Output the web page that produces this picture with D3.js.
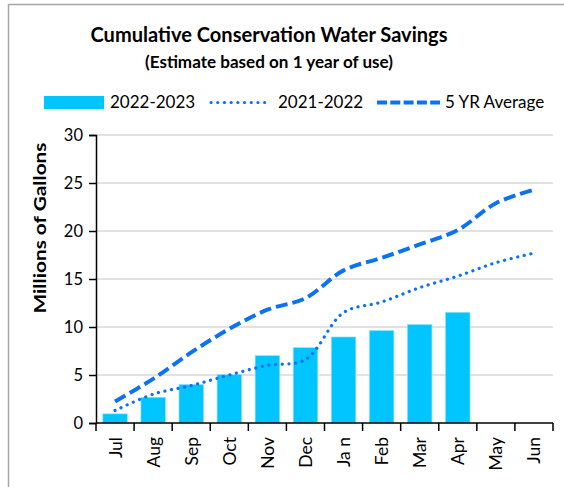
<!DOCTYPE html>
<html>
<head>
<meta charset="utf-8">
<script src="https://cdn.jsdelivr.net/npm/d3@7"></script>
<style>
  html, body { margin: 0; padding: 0; background: #fff; }
  svg { display: block; font-family: Lato, "Open Sans", sans-serif; }
</style>
</head>
<body>
<div id="chart"></div>
<script>
// Monthly cumulative water savings (millions of gallons), fiscal year Jul–Jun
const months = ["Jul", "Aug", "Sep", "Oct", "Nov", "Dec", "Jan", "Feb", "Mar", "Apr", "May", "Jun"];
const monthLabels = ["Jul", "Aug", "Sep", "Oct", "Nov", "Dec", "Ja n", "Feb", "Mar", "Apr", "May", "Jun"];
const savings2022_23 = [0.95, 2.67, 4.0, 5.03, 7.01, 7.84, 8.96, 9.62, 10.24, 11.52];
const savings2021_22 = [1.3, 3.0, 3.9, 5.0, 6.0, 6.6, 11.5, 12.6, 14.1, 15.3, 16.7, 17.7];
const fiveYearAverage = [2.25, 4.6, 7.35, 9.8, 11.8, 13.0, 15.9, 17.2, 18.6, 20.1, 22.9, 24.3];
const yTicks = [0, 5, 10, 15, 20, 25, 30];
const seriesNames = ["2022-2023", "2021-2022", "5 YR Average"];

const W = 564, H = 487;
const margin = { left: 96, right: 11, top: 135, bottom: 64 };
const barColor = "#00C5FF";
const lineColor = "#0A72F5";

const svg = d3.select("#chart").append("svg")
  .attr("width", W).attr("height", H);

// chart frame
svg.append("rect")
  .attr("x", 8.5).attr("y", 4.5)
  .attr("width", W).attr("height", H)
  .attr("fill", "#fff").attr("stroke", "#A6A6A6").attr("stroke-width", 1.5);

// titles
svg.append("text")
  .attr("x", 269).attr("y", 42)
  .attr("text-anchor", "middle")
  .attr("font-weight", "bold").attr("font-size", 21.5)
  .attr("textLength", 357).attr("lengthAdjust", "spacingAndGlyphs")
  .attr("fill", "#000")
  .text("Cumulative  Conservation  Water  Savings");
svg.append("text")
  .attr("x", 269).attr("y", 68)
  .attr("text-anchor", "middle")
  .attr("font-weight", "bold").attr("font-size", 17)
  .attr("textLength", 248).attr("lengthAdjust", "spacingAndGlyphs")
  .attr("fill", "#000")
  .text("(Estimate based on 1 year of use)");

const x = d3.scaleBand()
  .domain(months)
  .range([margin.left, W - margin.right])
  .paddingInner(0.36)
  .paddingOuter(0.18);

const y = d3.scaleLinear()
  .domain([0, 30])
  .range([H - margin.bottom, margin.top]);

// gridlines
svg.append("g")
  .selectAll("line")
  .data(yTicks.filter(d => d > 0))
  .join("line")
  .attr("x1", margin.left).attr("x2", W - margin.right)
  .attr("y1", d => y(d)).attr("y2", d => y(d))
  .attr("stroke", "#D9D9D9").attr("stroke-width", 1.5);

// bars
svg.append("g")
  .selectAll("rect")
  .data(savings2022_23)
  .join("rect")
  .attr("x", (d, i) => x(months[i]))
  .attr("width", x.bandwidth())
  .attr("y", d => y(d))
  .attr("height", d => y(0) - y(d))
  .attr("fill", barColor)
  .attr("stroke", "#7FE0FF").attr("stroke-width", 0.6);

const cx = i => x(months[i]) + x.bandwidth() / 2;
const line = d3.line()
  .x((d, i) => cx(i))
  .y(d => y(d))
  .curve(d3.curveCatmullRom.alpha(0.5));

// 2021-2022 dotted line
svg.append("path")
  .datum(savings2021_22)
  .attr("d", line)
  .attr("fill", "none")
  .attr("stroke", lineColor).attr("stroke-width", 3.2)
  .attr("stroke-linecap", "round")
  .attr("stroke-dasharray", "0.1,6.6");

// 5-year average dashed line
svg.append("path")
  .datum(fiveYearAverage)
  .attr("d", line)
  .attr("fill", "none")
  .attr("stroke", lineColor).attr("stroke-width", 4)
  .attr("stroke-dasharray", "12,5");

// y axis
const yAxis = svg.append("g")
  .attr("transform", `translate(${margin.left},0)`)
  .call(d3.axisLeft(y).tickValues(yTicks).tickSize(7).tickPadding(6).tickFormat(d3.format("d")));
yAxis.select(".domain").attr("stroke", "#000").attr("stroke-width", 1.5);
yAxis.selectAll(".tick line").attr("stroke", "#000").attr("stroke-width", 1.5);
yAxis.selectAll(".tick text")
  .attr("font-family", "Lato, sans-serif").attr("font-size", 16.5).attr("fill", "#000");

// x axis: ticks on category boundaries
const xAxisG = svg.append("g").attr("transform", `translate(0,${y(0)})`);
xAxisG.append("line")
  .attr("x1", margin.left).attr("x2", W - margin.right)
  .attr("stroke", "#000").attr("stroke-width", 1.5);
const boundary = i => margin.left + i * x.step();
xAxisG.selectAll("line.tick")
  .data(d3.range(months.length + 1))
  .join("line")
  .attr("class", "tick")
  .attr("x1", boundary).attr("x2", boundary)
  .attr("y1", 0).attr("y2", 8)
  .attr("stroke", "#000").attr("stroke-width", 1.5);
xAxisG.selectAll("text")
  .data(monthLabels)
  .join("text")
  .attr("transform", (d, i) => `translate(${cx(i) + 6.5},14) rotate(-90)`)
  .attr("text-anchor", "end")
  .attr("font-size", 17.5)
  .attr("fill", "#000")
  .text(d => d);

// y axis title
svg.append("text")
  .attr("transform", `translate(46,228) rotate(-90)`)
  .attr("text-anchor", "middle")
  .attr("font-weight", "bold").attr("font-size", 17.5)
  .attr("textLength", 171).attr("lengthAdjust", "spacingAndGlyphs")
  .attr("fill", "#000")
  .text("Millions of Gallons");

// legend
const legend = svg.append("g").attr("font-size", 17).attr("fill", "#000");
legend.append("rect")
  .attr("x", 44).attr("y", 96).attr("width", 60).attr("height", 13)
  .attr("fill", barColor);
legend.append("text").attr("x", 110).attr("y", 108).text(seriesNames[0]);
legend.append("line")
  .attr("x1", 211).attr("x2", 268).attr("y1", 102.5).attr("y2", 102.5)
  .attr("stroke", lineColor).attr("stroke-width", 3.2)
  .attr("stroke-linecap", "round").attr("stroke-dasharray", "0.1,6.6");
legend.append("text").attr("x", 278).attr("y", 108).text(seriesNames[1]);
legend.append("line")
  .attr("x1", 377).attr("x2", 440).attr("y1", 102.5).attr("y2", 102.5)
  .attr("stroke", lineColor).attr("stroke-width", 4)
  .attr("stroke-dasharray", "10,3.3");
legend.append("text").attr("x", 445).attr("y", 108).text(seriesNames[2]);
</script>
</body>
</html>
